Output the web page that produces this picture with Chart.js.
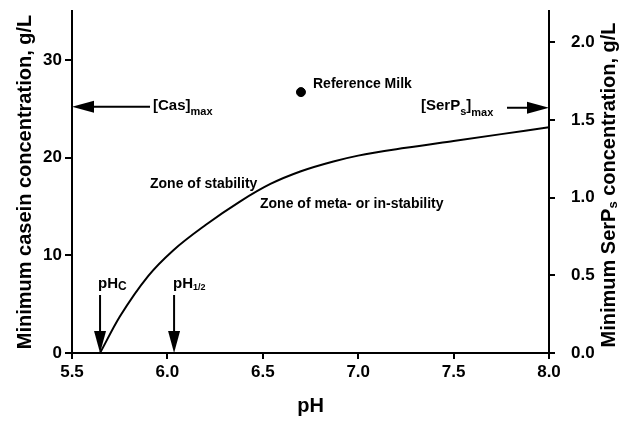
<!DOCTYPE html>
<html>
<head>
<meta charset="utf-8">
<script src="https://cdn.jsdelivr.net/npm/chart.js@4.4.0/dist/chart.umd.min.js"></script>
<style>
  body { margin: 0; background: #fff; }
  #chart { display: block; }
</style>
</head>
<body>
<canvas id="chart" width="619" height="421"></canvas>
<script>
// curve
const phValues = [5.647, 5.75, 5.9, 6.03, 6.2, 6.38, 6.54, 6.7, 6.87, 7.0, 7.25, 7.5, 7.75, 8.0];
const caseinValues = [0, 3.7, 7.9, 10.5, 13.1, 15.5, 17.3, 18.6, 19.6, 20.2, 21.0, 21.7, 22.4, 23.1];

const refMilkPh = [6.70];
const refMilkCasein = [26.7];

const casMax = 25.2;      // left axis units
const pHc = 5.647;
const pHhalf = 6.035;

const xTicks = [5.5, 6.0, 6.5, 7.0, 7.5, 8.0];
const yTicks = [0, 10, 20, 30];
const y2Ticks = [0, 0.5, 1.0, 1.5, 2.0];

const FONT = '"Liberation Sans", Arial, sans-serif';

function keepTicks(list) {
    return function (scale) {
        scale.ticks = list.map(v => ({ value: v }));
    };
}

function fixSize(prop, size) {
    return function (scale) {
        scale[prop] = size;
        scale.paddingTop = 0;
        scale.paddingBottom = 0;
        scale.paddingLeft = 0;
        scale.paddingRight = 0;
    };
}

function drawParts(ctx, parts, x, y) {
    // parts: [text, size, dy]
    let cx = x;
    parts.forEach(p => {
        ctx.font = 'bold ' + p[1] + 'px ' + FONT;
        ctx.fillText(p[0], cx, y + p[2]);
        cx += ctx.measureText(p[0]).width;
    });
}

function arrow(ctx, x1, y1, x2, y2) {
    // line from (x1,y1) to tip (x2,y2)
    const ang = Math.atan2(y2 - y1, x2 - x1);
    const len = 22, half = 6;
    ctx.beginPath();
    ctx.moveTo(x1, y1);
    ctx.lineTo(x2 - len * Math.cos(ang), y2 - len * Math.sin(ang));
    ctx.lineWidth = 2;
    ctx.stroke();
    ctx.beginPath();
    ctx.moveTo(x2, y2);
    ctx.lineTo(x2 - len * Math.cos(ang) - half * Math.sin(ang), y2 - len * Math.sin(ang) + half * Math.cos(ang));
    ctx.lineTo(x2 - len * Math.cos(ang) + half * Math.sin(ang), y2 - len * Math.sin(ang) - half * Math.cos(ang));
    ctx.closePath();
    ctx.fill();
}

const annotations = {
    id: 'annotations',
    afterDraw(chart) {
        const ctx = chart.ctx;
        const xs = chart.scales.x, ys = chart.scales.y;
        const area = chart.chartArea;
        ctx.save();
        ctx.fillStyle = '#000';
        ctx.strokeStyle = '#000';
        ctx.textBaseline = 'middle';
        ctx.textAlign = 'left';

        // [Cas]max arrow
        const yCas = ys.getPixelForValue(casMax);
        arrow(ctx, 150, yCas, area.left, yCas);
        drawParts(ctx, [['[Cas]', 15, -1], ['max', 11, 5]], 153, yCas);

        // [SerPs]max arrow
        arrow(ctx, 507, yCas + 1, area.right, yCas + 1);
        drawParts(ctx, [['[SerP', 15, -1], ['s', 11, 5], [']', 15, -1], ['max', 11, 6]], 421, yCas);

        // Reference Milk label
        ctx.font = 'bold 14px ' + FONT;
        ctx.fillText('Reference Milk', 313, 84);

        // zone labels
        ctx.fillText('Zone of stability', 150, 184);
        ctx.fillText('Zone of meta- or in-stability', 260, 204);

        // pH arrows
        const x0 = ys.getPixelForValue(0);
        const xc = xs.getPixelForValue(pHc);
        const xh = xs.getPixelForValue(pHhalf);
        arrow(ctx, xc, 295, xc, x0);
        arrow(ctx, xh, 295, xh, x0);
        drawParts(ctx, [['pH', 15, 0], ['C', 12, 3]], xc - 2, 284);
        drawParts(ctx, [['pH', 15, 0], ['1/2', 9, 4]], xh - 1, 284);

        // axis titles
        ctx.textAlign = 'center';
        ctx.font = 'bold 20px ' + FONT;
        ctx.fillText('pH', (area.left + area.right) / 2, 406);

        const cy = (area.top + area.bottom) / 2;
        ctx.save();
        ctx.translate(25, cy);
        ctx.rotate(-Math.PI / 2);
        ctx.fillText('Minimum casein concentration, g/L', 0, 0);
        ctx.restore();

        ctx.save();
        ctx.translate(609, cy + 3);
        ctx.rotate(-Math.PI / 2);
        ctx.textAlign = 'left';
        const a = 'Minimum SerP', b = ' concentration, g/L';
        ctx.font = 'bold 20px ' + FONT;
        const wa = ctx.measureText(a).width, wb = ctx.measureText(b).width;
        ctx.font = 'bold 13px ' + FONT;
        const ws = ctx.measureText('s').width;
        const start = -(wa + wb + ws) / 2;
        drawParts(ctx, [[a, 20, 0], ['s', 13, 4], [b, 20, 0]], start, 0);
        ctx.restore();

        ctx.restore();
    }
};

const tickFont = { family: FONT, size: 17, weight: 'bold' };

new Chart(document.getElementById('chart'), {
    type: 'line',
    data: {
        datasets: [{
            data: phValues.map((p, i) => ({ x: p, y: caseinValues[i] })),
            borderColor: '#000',
            borderWidth: 2,
            pointRadius: 0,
            cubicInterpolationMode: 'monotone',
            fill: false
        }, {
            type: 'scatter',
            data: refMilkPh.map((p, i) => ({ x: p, y: refMilkCasein[i] })),
            backgroundColor: '#000',
            borderColor: '#000',
            pointRadius: 4.5
        }]
    },
    options: {
        responsive: false,
        animation: false,
        devicePixelRatio: 1,
        layout: { padding: { top: 11, left: 0, right: 0, bottom: 0 } },
        plugins: { legend: { display: false }, tooltip: { enabled: false } },
        scales: {
            x: {
                type: 'linear', position: 'bottom', min: 5.5, max: 8.0,
                afterBuildTicks: keepTicks(xTicks),
                afterFit: fixSize('height', 68),
                border: { color: '#000', width: 2 },
                grid: { drawOnChartArea: false, color: '#000', lineWidth: 2, tickLength: 6 },
                ticks: { color: '#000', font: tickFont, padding: 3, maxRotation: 0, callback: v => v.toFixed(1) }
            },
            y: {
                type: 'linear', position: 'left', min: 0, max: 35,
                afterBuildTicks: keepTicks(yTicks),
                afterFit: fixSize('width', 72),
                border: { color: '#000', width: 2 },
                grid: { drawOnChartArea: false, color: '#000', lineWidth: 2, tickLength: 7 },
                ticks: { color: '#000', font: tickFont, padding: 3, callback: v => String(v) }
            },
            y2: {
                type: 'linear', position: 'right', min: 0, max: 2.2,
                afterBuildTicks: keepTicks(y2Ticks),
                afterFit: fixSize('width', 70),
                border: { color: '#000', width: 2 },
                grid: { drawOnChartArea: false, color: '#000', lineWidth: 2, tickLength: 6 },
                ticks: { color: '#000', font: tickFont, padding: 16, callback: v => v.toFixed(1) }
            }
        }
    },
    plugins: [annotations]
});
</script>
</body>
</html>
